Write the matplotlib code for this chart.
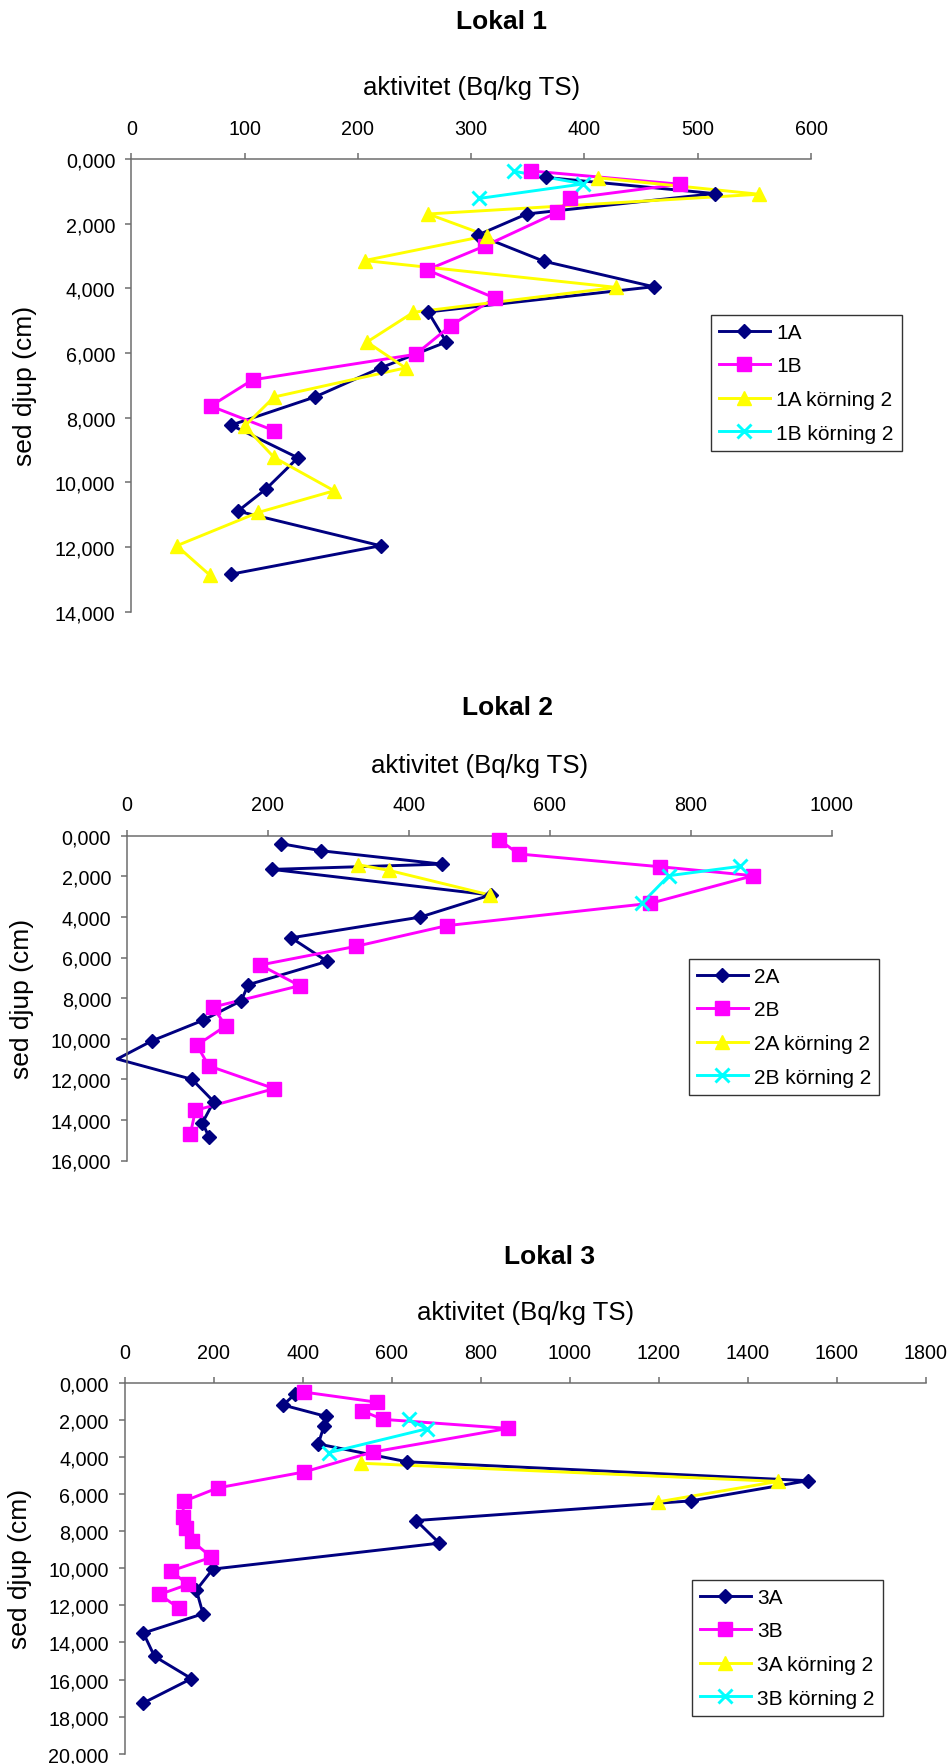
import matplotlib
matplotlib.use("Agg")
import matplotlib.pyplot as plt
from matplotlib.ticker import FuncFormatter, MultipleLocator
import numpy as np

plt.rcParams['font.family'] = ['Liberation Sans', 'DejaVu Sans']

W, H = 949, 1765

# ---------------- data (x = aktivitet Bq/kg TS, d = sed djup cm) ----------------
# Lokal 1
l1_1A_x = [366, 515, 349, 306, 364, 461, 262, 278, 220, 162, 88, 147, 119, 94, 220, 88]
l1_1A_d = [0.57, 1.07, 1.70, 2.35, 3.16, 3.95, 4.73, 5.66, 6.46, 7.36, 8.23, 9.24, 10.20, 10.89, 11.96, 12.84]
l1_1B_x = [353, 484, 387, 376, 312, 261, 321, 282, 251, 107, 70, 126]
l1_1B_d = [0.37, 0.78, 1.22, 1.65, 2.69, 3.43, 4.30, 5.15, 6.04, 6.83, 7.64, 8.40]
l1_1Ak2_x = [412, 554, 262, 314, 206, 428, 249, 208, 242, 126, 100, 126, 179, 112, 40, 69]
l1_1Ak2_d = [0.58, 1.09, 1.70, 2.37, 3.14, 3.97, 4.74, 5.66, 6.46, 7.36, 8.26, 9.23, 10.26, 10.93, 11.96, 12.86]
l1_1Bk2_x = [338, 399, 307]
l1_1Bk2_d = [0.38, 0.77, 1.22]

# Lokal 2
l2_2A_x = [218, 275, 447, 206, 516, 416, 233, 284, 172, 162, 108, 35, -14, 92, 123, 107, 116]
l2_2A_d = [0.39, 0.74, 1.40, 1.66, 2.92, 4.01, 5.03, 6.19, 7.34, 8.13, 9.09, 10.11, 11.00, 12.00, 13.10, 14.14, 14.83]
l2_2B_x = [528, 556, 757, 889, 743, 454, 325, 189, 245, 122, 140, 99, 116, 209, 97, 90]
l2_2B_d = [0.20, 0.90, 1.53, 1.97, 3.33, 4.43, 5.45, 6.37, 7.39, 8.44, 9.37, 10.32, 11.34, 12.46, 13.53, 14.67]
l2_2Ak2_x = [328, 372, 515]
l2_2Ak2_d = [1.43, 1.71, 2.92]
l2_2Bk2_x = [870, 769, 731]
l2_2Bk2_d = [1.51, 1.97, 3.32]

# Lokal 3
l3_3A_x = [383, 356, 452, 448, 435, 634, 1535, 1272, 655, 707, 198, 161, 176, 42, 67, 150, 42]
l3_3A_d = [0.59, 1.19, 1.80, 2.30, 3.29, 4.25, 5.27, 6.36, 7.42, 8.64, 10.04, 11.17, 12.45, 13.49, 14.75, 15.95, 17.26]
l3_3B_x = [403, 568, 534, 580, 861, 558, 403, 209, 133, 130, 137, 152, 195, 104, 142, 78, 122]
l3_3B_d = [0.49, 1.04, 1.51, 1.96, 2.45, 3.72, 4.80, 5.66, 6.38, 7.24, 7.80, 8.54, 9.40, 10.14, 10.87, 11.41, 12.15]
l3_3Ak2_x = [532, 1468, 1199]
l3_3Ak2_d = [4.33, 5.31, 6.41]
l3_3Bk2_x = [638, 679, 458]
l3_3Bk2_d = [1.96, 2.47, 3.76]

titles = ["Lokal 1", "Lokal 2", "Lokal 3"]
xlabel = "aktivitet (Bq/kg TS)"
ylabel = "sed djup (cm)"
xmax = [600, 1000, 1800]
xstep = [100, 200, 200]
ymax = [14, 16, 20]

panels = [
    [("1A", l1_1A_x, l1_1A_d), ("1B", l1_1B_x, l1_1B_d),
     ("1A körning 2", l1_1Ak2_x, l1_1Ak2_d), ("1B körning 2", l1_1Bk2_x, l1_1Bk2_d)],
    [("2A", l2_2A_x, l2_2A_d), ("2B", l2_2B_x, l2_2B_d),
     ("2A körning 2", l2_2Ak2_x, l2_2Ak2_d), ("2B körning 2", l2_2Bk2_x, l2_2Bk2_d)],
    [("3A", l3_3A_x, l3_3A_d), ("3B", l3_3B_x, l3_3B_d),
     ("3A körning 2", l3_3Ak2_x, l3_3Ak2_d), ("3B körning 2", l3_3Bk2_x, l3_3Bk2_d)],
]

# ---------------- styles / layout (pixels) ----------------
styles = [
    dict(color="#000080", marker="D", ms=7.4, mew=1.0),
    dict(color="#FF00FF", marker="s", ms=9.8, mew=1.0),
    dict(color="#FFFF00", marker="^", ms=10.2, mew=1.0),
    dict(color="#00FFFF", marker="x", ms=9.8, mew=2.1),
]
axes_px = [  # left, right, top, bottom
    (131.4, 811.0, 160.0, 612.7),
    (127.1, 831.5, 836.7, 1161.5),
    (124.7, 925.8, 1384.0, 1754.7),
]
title_px = [(502, 22), (507, 708), (550, 1257)]
xlabel_y = [88, 766, 1313]
ylabel_x = [25, 22, 20]
legend_px = [(711, 316), (689, 960), (692, 1581)]

axis_col = "#6e6e6e"

fig = plt.figure(figsize=(W / 100, H / 100), dpi=100)

def fx(x):
    return x / W

def fy(y):
    return 1 - y / H

yfmt = FuncFormatter(lambda v, p: f"{v:.3f}".replace(".", ","))

for i in range(3):
    l, r, t, b = axes_px[i]
    ax = fig.add_axes([fx(l), fy(b), (r - l) / W, (b - t) / H])
    ax.set_xlim(0, xmax[i])
    ax.set_ylim(ymax[i], 0)
    ax.xaxis.set_major_locator(MultipleLocator(xstep[i]))
    ax.yaxis.set_major_locator(MultipleLocator(2))
    ax.yaxis.set_major_formatter(yfmt)
    ax.xaxis.tick_top()
    for s in ["right", "bottom"]:
        ax.spines[s].set_visible(False)
    for s in ["left", "top"]:
        ax.spines[s].set_color(axis_col)
        ax.spines[s].set_linewidth(1.1)
    ax.tick_params(axis="x", direction="out", length=4.5, width=1.1, color=axis_col,
                   labelsize=14.2, pad=10.8)
    ax.tick_params(axis="y", direction="out", length=4.5, width=1.1, color=axis_col,
                   labelsize=14.2, pad=7)
    ax.patch.set_alpha(0)

    handles = []
    for (name, xs, ds), st in zip(panels[i], styles):
        xs = np.asarray(xs, float)
        ds = np.asarray(ds, float)
        ax.plot(xs, ds, color=st["color"], lw=2.1, clip_on=False, zorder=2)
        m = xs >= 0
        ax.plot(xs[m], ds[m], ls="none", marker=st["marker"], ms=st["ms"],
                mfc=st["color"], mec=st["color"], mew=st["mew"], clip_on=False, zorder=3)
        h, = ax.plot([], [], color=st["color"], lw=2.1, marker=st["marker"], ms=st["ms"],
                     mfc=st["color"], mec=st["color"], mew=st["mew"], label=name)
        handles.append(h)

    lx, ly = legend_px[i]
    leg = fig.legend(handles=handles, loc="upper left", bbox_to_anchor=(fx(lx), fy(ly)),
                     bbox_transform=fig.transFigure, fontsize=15, frameon=True,
                     fancybox=False, edgecolor="black", borderaxespad=0,
                     handlelength=2.45, handletextpad=0.3, labelspacing=0.7,
                     borderpad=0.38, markerscale=1.0)
    leg.get_frame().set_linewidth(1.0)

    fig.text(fx(title_px[i][0]), fy(title_px[i][1]), titles[i], fontsize=19,
             fontweight="bold", ha="center", va="center")
    fig.text(fx((l + r) / 2), fy(xlabel_y[i]), xlabel, fontsize=18.5,
             ha="center", va="center")
    fig.text(fx(ylabel_x[i]), fy((t + b) / 2), ylabel, fontsize=19, rotation=90,
             ha="center", va="center")

fig.savefig("out.png", dpi=100)
